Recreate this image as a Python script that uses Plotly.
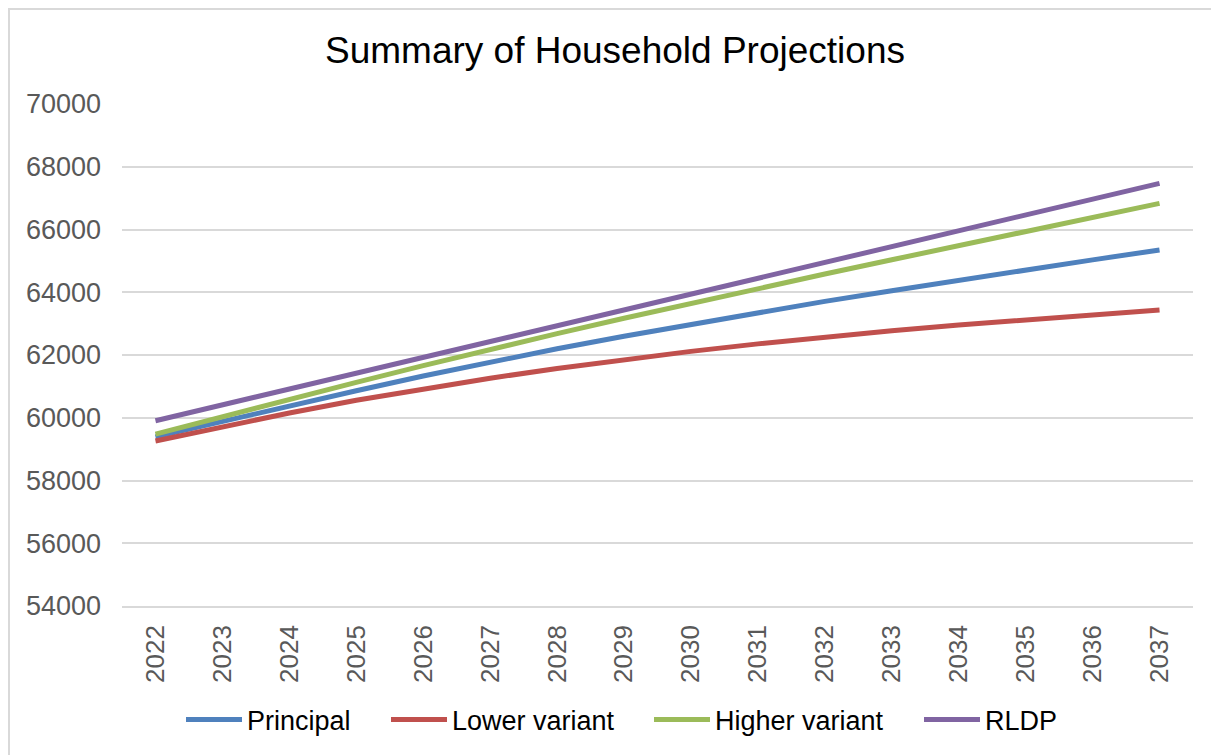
import plotly.graph_objects as go

years = [str(y) for y in range(2022, 2038)]
principal = [59390, 59890, 60380, 60860, 61330, 61780, 62200, 62600, 62980, 63350,
             63710, 64050, 64385, 64712, 65032, 65347]
lower_variant = [59260, 59720, 60150, 60560, 60930, 61260, 61570, 61855, 62115, 62355,
                 62575, 62770, 62955, 63125, 63285, 63434]
higher_variant = [59480, 60040, 60590, 61130, 61660, 62180, 62680, 63170, 63650, 64120,
                  64580, 65035, 65487, 65937, 66387, 66834]
rldp = [59906, 60410, 60915, 61419, 61924, 62428, 62932, 63437, 63941, 64446,
        64950, 65454, 65959, 66463, 66968, 67472]

series = [
    ("Principal", principal, "#4F81BD"),
    ("Lower variant", lower_variant, "#C0504D"),
    ("Higher variant", higher_variant, "#9BBB59"),
    ("RLDP", rldp, "#8064A2"),
]

FONT = "Liberation Sans, Arial, sans-serif"
W, H = 1211, 747          # page body has an 8px margin
ML, MT = 114, 96
PW, PH = 1071, 502
MR = W - ML - PW
MB = H - MT - PH

legend_names = ["legend", "legend2", "legend3", "legend4"]
legend_start_px = [173, 378, 641, 911]   # figure px where each legend entry starts

fig = go.Figure()
for (name, vals, color), lg in zip(series, legend_names):
    fig.add_trace(go.Scatter(x=years, y=vals, name=name, mode="lines",
                             line=dict(color=color, width=5), legend=lg))

legend_y = (PH + MT - 712) / PH
legends = {}
for lg, px in zip(legend_names, legend_start_px):
    legends[lg] = dict(orientation="h", x=(px - ML) / PW, xanchor="left",
                       y=legend_y, yanchor="middle",
                       font=dict(family=FONT, size=27, color="black"), itemwidth=56,
                       bgcolor="rgba(0,0,0,0)")

def px_x(fx):
    return (fx - ML) / PW

def px_y(fy):
    return (PH + MT - fy) / PH

fig.update_layout(
    width=W, height=H,
    paper_bgcolor="white", plot_bgcolor="white",
    margin=dict(l=ML, r=MR, t=MT, b=MB, autoexpand=False),
    title=dict(text="Summary of Household Projections", x=607 / W, xanchor="center",
               y=1 - 42 / H, yanchor="middle",
               font=dict(family=FONT, size=37, color="black")),
    font=dict(family=FONT),
    showlegend=True,
    xaxis=dict(type="category", range=[-0.5, 15.5], tickangle=-90,
               tickfont=dict(family=FONT, size=26, color="#595959"),
               showgrid=False, showline=True, linecolor="#D9D9D9", linewidth=1.5,
               zeroline=False, ticks="", automargin=False,
               ticklabelstandoff=7, fixedrange=True),
    yaxis=dict(range=[54000, 70000], dtick=2000, tickformat="d",
               tickfont=dict(family=FONT, size=27, color="#595959"),
               showgrid=True, gridcolor="#D9D9D9", gridwidth=1.5,
               showline=False, zeroline=False, ticks="", automargin=False,
               ticklabelstandoff=20, fixedrange=True),
    shapes=[
        dict(type="line", xref="paper", yref="paper",
             x0=px_x(1), x1=px_x(1), y0=px_y(0), y1=px_y(H + 20),
             line=dict(color="#D9D9D9", width=2), layer="below"),
        dict(type="line", xref="paper", yref="paper",
             x0=px_x(0), x1=px_x(W + 20), y0=px_y(1), y1=px_y(1),
             line=dict(color="#D9D9D9", width=2), layer="below"),
    ],
    **legends,
)

fig.write_html("out.html")
